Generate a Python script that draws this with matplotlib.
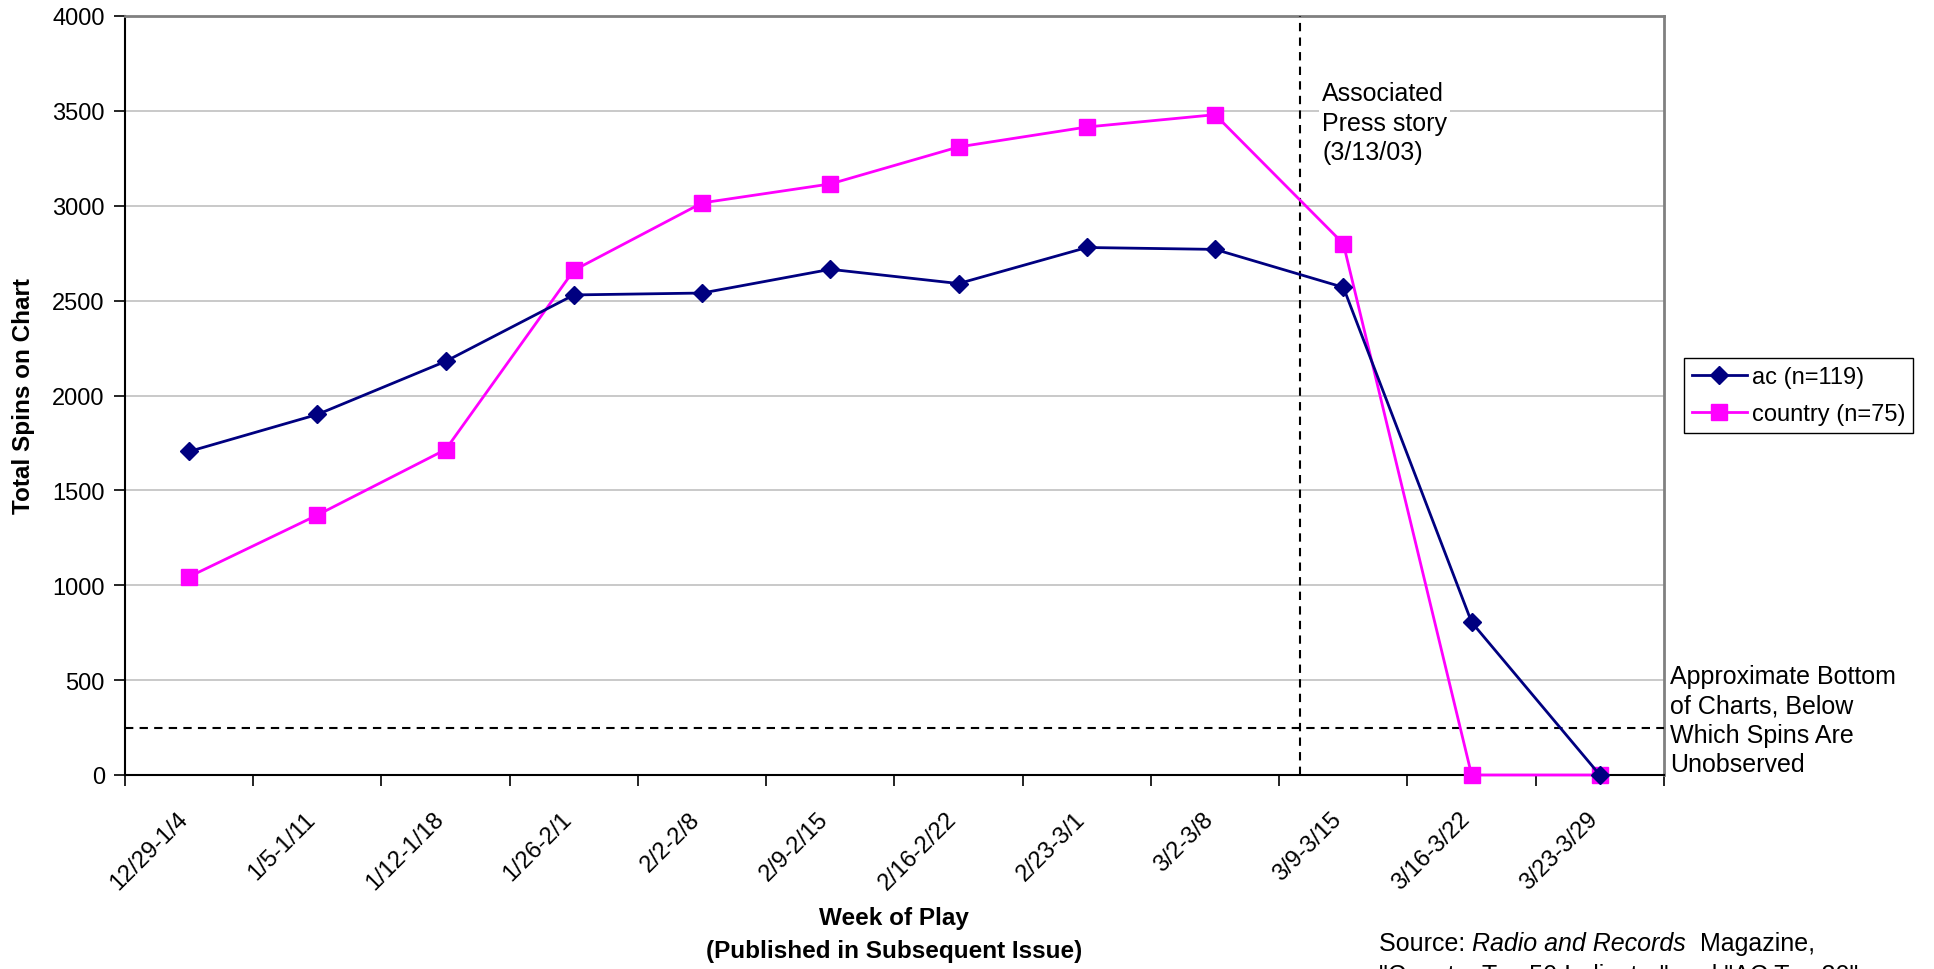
import matplotlib
matplotlib.use("Agg")
import matplotlib.pyplot as plt
import numpy as np

plt.rcParams['font.family'] = ['Liberation Sans', 'DejaVu Sans']

weeks = ["12/29-1/4", "1/5-1/11", "1/12-1/18", "1/26-2/1", "2/2-2/8", "2/9-2/15",
         "2/16-2/22", "2/23-3/1", "3/2-3/8", "3/9-3/15", "3/16-3/22", "3/23-3/29"]
ac = [1705, 1900, 2180, 2530, 2540, 2665, 2590, 2780, 2770, 2570, 805, 0]
country = [1045, 1370, 1715, 2660, 3015, 3115, 3310, 3415, 3480, 2800, 0, 0]
ac_label = "ac (n=119)"
country_label = "country (n=75)"
chart_bottom = 250
story_x = 8.66
yticks = [0, 500, 1000, 1500, 2000, 2500, 3000, 3500, 4000]

W, H = 1934, 970
fig = plt.figure(figsize=(W / 100, H / 100), dpi=100)
ax = fig.add_axes([125 / W, 1 - 776 / H, (1664 - 125) / W, (776 - 17) / H])

x = np.arange(len(weeks))
ax.plot(x, ac, color='#000080', lw=2, marker='D', ms=9, mfc='#000080', mec='#000080',
        label=ac_label, clip_on=False, zorder=5)
ax.plot(x, country, color='#FF00FF', lw=2, marker='s', ms=11, mfc='#FF00FF', mec='#FF00FF',
        label=country_label, clip_on=False, zorder=4)

ax.set_xlim(-0.5, len(weeks) - 0.5)
ax.set_ylim(0, 4000)
ax.set_yticks(yticks)
ax.yaxis.grid(True, color='#c0c0c0', lw=1.2)
ax.set_axisbelow(True)

ax.set_xticks(np.arange(-0.5, len(weeks) + 0.5, 1))
ax.set_xticklabels([])
ax.set_xticks(x - 0.10, minor=True)
ax.set_xticklabels(weeks, minor=True, rotation=45, ha='right', va='top',
                   rotation_mode='anchor', fontsize=17)
ax.tick_params(axis='x', which='minor', length=0, pad=23.5)
ax.tick_params(axis='x', which='major', length=8, width=1.2, direction='out')
ax.tick_params(axis='y', length=8, width=1.2, direction='out', labelsize=17, pad=6.5)

for s in ['left', 'bottom']:
    ax.spines[s].set_color('black')
    ax.spines[s].set_linewidth(1.5)
for s in ['top', 'right']:
    ax.spines[s].set_color('#808080')
    ax.spines[s].set_linewidth(2)

ax.axhline(chart_bottom, color='black', lw=1.5, ls=(0, (4, 3)), zorder=3)
ax.axvline(story_x, color='black', lw=1.5, ls=(0, (4, 3)), zorder=3)

fig.text(24 / W, 1 - 396 / H, "Total Spins on Chart", fontsize=17.5, fontweight='bold',
         rotation=90, ha='center', va='center')
fig.text(894 / W, 1 - 919 / H, "Week of Play", fontsize=17.5, fontweight='bold',
         ha='center', va='center')
fig.text(894 / W, 1 - 952 / H, "(Published in Subsequent Issue)", fontsize=17.5,
         fontweight='bold', ha='center', va='center')

fig.text(1322 / W, 1 - 82 / H, "Associated\nPress story\n(3/13/03)", fontsize=18,
         ha='left', va='top', linespacing=1.3,
         bbox=dict(facecolor='white', edgecolor='none', pad=2))

fig.text(1670 / W, 1 - 665 / H, "Approximate Bottom\nof Charts, Below\nWhich Spins Are\nUnobserved",
         fontsize=18, ha='left', va='top', linespacing=1.28)

leg = fig.legend(loc='upper left', bbox_to_anchor=(1684 / W, 1 - 359 / H), fontsize=17,
                 frameon=True, fancybox=False, edgecolor='black', framealpha=1,
                 handlelength=2.33, borderpad=0.33, labelspacing=0.66, handletextpad=0.22,
                 borderaxespad=0)
leg.get_frame().set_linewidth(1.0)

# Source note with italic part
renderer = fig.canvas.get_renderer()
sx, sy = 1379, 951
parts = [("Source: ", 'normal'), ("Radio and Records", 'italic'), ("  Magazine,", 'normal')]
cur = sx
for txt, style in parts:
    t = fig.text(cur / W, 1 - sy / H, txt, fontsize=18, style=style, ha='left', va='baseline')
    bb = t.get_window_extent(renderer)
    cur = bb.x1
fig.text(sx / W, 1 - (sy + 32) / H, "\"Country Top 50 Indicator\" and \"AC Top 30\"",
         fontsize=18, ha='left', va='baseline')

fig.savefig("out.png", dpi=100)
